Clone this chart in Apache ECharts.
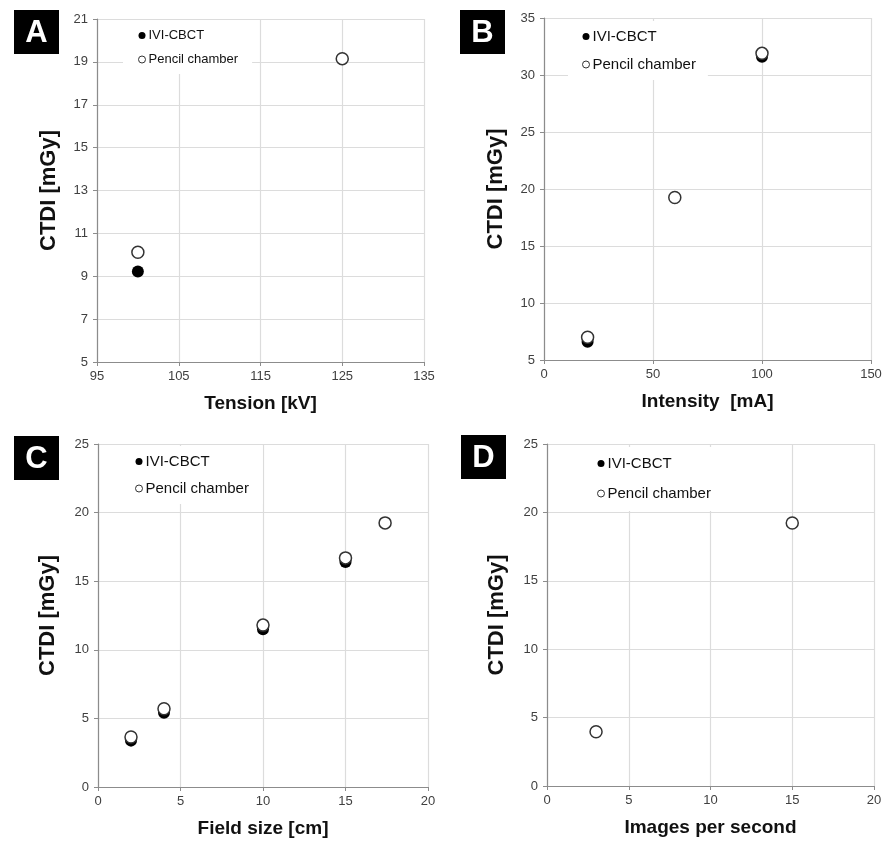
<!DOCTYPE html>
<html>
<head>
    <meta charset="utf-8">
    <title>CTDI</title>
    <script src="https://cdn.jsdelivr.net/npm/echarts@6/dist/echarts.min.js"></script>
</head>
<style>
    html, body { margin: 0; padding: 0; background: #fff; }
    #main { width: 886px; height: 842px; }
</style>
<body>
<div id="main"></div>
<script>
    // names
    var ivi = 'IVI-CBCT';
    var pen = 'Pencil chamber';

    // A - tension
    var aIviX = [100];
    var aIviY = [9.22];
    var aPenX = [100, 125];
    var aPenY = [10.12, 19.15];

    // B - intensity
    var bIviX = [20, 100];
    var bIviY = [6.6, 31.6];
    var bPenX = [20, 60, 100];
    var bPenY = [7.0, 19.25, 31.9];

    // C - field size
    var cIviX = [2, 4, 10, 15];
    var cIviY = [3.38, 5.42, 11.5, 16.4];
    var cPenX = [2, 4, 10, 15, 17.4];
    var cPenY = [3.65, 5.7, 11.8, 16.7, 19.25];

    // D - images per second (only pencil visible)
    var dPenX = [3, 15];
    var dPenY = [3.96, 19.23];

    var xNames = ['Tension [kV]', 'Intensity  [mA]', 'Field size [cm]', 'Images per second'];
    var yName = 'CTDI [mGy]';
    var letters = ['A', 'B', 'C', 'D'];

    function zip(xs, ys) {
        var out = [];
        for (var i = 0; i < xs.length; i++) out.push([xs[i], ys[i]]);
        return out;
    }

    var grids = [
        {left: 97, top: 19, width: 327, height: 343},
        {left: 544, top: 18, width: 327, height: 342},
        {left: 98, top: 444, width: 330, height: 343},
        {left: 547, top: 444, width: 327, height: 342}
    ];
    var xRanges = [[95, 135, 10], [0, 150, 50], [0, 20, 5], [0, 20, 5]];
    var yRanges = [[5, 21, 2], [5, 35, 5], [0, 25, 5], [0, 25, 5]];
    var yGaps = [37, 37, 39, 39];

    var axisGray = '#8c8c8c';
    var gridGray = '#dcdcdc';
    var labelCol = '#404040';

    var xAxes = [], yAxes = [];
    for (var i = 0; i < 4; i++) {
        xAxes.push({
            type: 'value', gridIndex: i,
            min: xRanges[i][0], max: xRanges[i][1], interval: xRanges[i][2],
            name: xNames[i], nameLocation: 'middle', nameGap: 32,
            nameTextStyle: {fontFamily: 'Liberation Sans', fontWeight: 'bold', fontSize: 19, color: '#111'},
            axisLine: {show: true, lineStyle: {color: axisGray, width: 1.2}},
            axisTick: {show: true, length: 4, lineStyle: {color: axisGray}},
            axisLabel: {fontFamily: 'Liberation Sans', fontSize: 13, color: labelCol, margin: 8},
            splitLine: {show: true, lineStyle: {color: gridGray, width: 1.2}}
        });
        yAxes.push({
            type: 'value', gridIndex: i,
            min: yRanges[i][0], max: yRanges[i][1], interval: yRanges[i][2],
            name: yName, nameLocation: 'middle', nameGap: yGaps[i],
            nameTextStyle: {fontFamily: 'Liberation Sans', fontWeight: 'bold', fontSize: 22, color: '#111'},
            axisLine: {show: true, lineStyle: {color: axisGray, width: 1.2}},
            axisTick: {show: true, length: 4, lineStyle: {color: axisGray}},
            axisLabel: {fontFamily: 'Liberation Sans', fontSize: 13, color: labelCol, margin: 9},
            splitLine: {show: true, lineStyle: {color: gridGray, width: 1.2}}
        });
    }

    var iviStyle = {color: '#000', opacity: 1};
    var penStyle = {color: '#fff', borderColor: '#333', borderWidth: 1.5, opacity: 1};

    function sc(name, idx, data, style) {
        return {
            name: name, type: 'scatter', xAxisIndex: idx, yAxisIndex: idx,
            symbol: 'circle', symbolSize: 12, data: data, itemStyle: style,
            emphasis: {disabled: true}
        };
    }

    var series = [
        sc(ivi, 0, zip(aIviX, aIviY), iviStyle),
        sc(pen, 0, zip(aPenX, aPenY), penStyle),
        sc(ivi, 1, zip(bIviX, bIviY), iviStyle),
        sc(pen, 1, zip(bPenX, bPenY), penStyle),
        sc(ivi, 2, zip(cIviX, cIviY), iviStyle),
        sc(pen, 2, zip(cPenX, cPenY), penStyle),
        sc(ivi, 3, [], iviStyle),
        sc(pen, 3, zip(dPenX, dPenY), penStyle)
    ];

    // legend boxes
    var legendPos = [
        {left: 123, top: 20, fs: 13, gap: 11, pad: [9, 14, 8, 15]},
        {left: 568, top: 21, fs: 15, gap: 13, pad: [8, 12, 8, 14]},
        {left: 121, top: 446, fs: 15, gap: 12, pad: [8, 14, 8, 14]},
        {left: 583, top: 447, fs: 15, gap: 15, pad: [9, 14, 10, 14]}
    ];
    var legends = legendPos.map(function (p) {
        return {
            orient: 'vertical', left: p.left, top: p.top,
            padding: p.pad, itemGap: p.gap, itemWidth: 7, itemHeight: 7,
            backgroundColor: '#fff', selectedMode: false,
            textStyle: {fontFamily: 'Liberation Sans', fontSize: p.fs, color: '#111', padding: [0, 0, 0, -2]},
            data: [
                {name: ivi, icon: 'circle', itemStyle: {color: '#000', borderWidth: 0, opacity: 1}},
                {name: pen, icon: 'circle', itemStyle: {color: '#fff', borderColor: '#333', borderWidth: 1, opacity: 1}}
            ]
        };
    });

    // panel letters
    var boxes = [[14, 10], [460, 10], [14, 436], [461, 435]];
    var graphic = [];
    for (var k = 0; k < 4; k++) {
        graphic.push({
            type: 'group', left: boxes[k][0], top: boxes[k][1],
            children: [
                {type: 'rect', shape: {x: 0, y: 0, width: 45, height: 44}, style: {fill: '#000'}},
                {type: 'text', x: 22.5, y: 23, style: {text: letters[k], fill: '#fff',
                    font: 'bold 31px "Liberation Sans"', align: 'center', verticalAlign: 'middle'}}
            ]
        });
    }

    var myChart = echarts.init(document.getElementById('main'));
    myChart.setOption({
        animation: false,
        grid: grids,
        xAxis: xAxes,
        yAxis: yAxes,
        legend: legends,
        graphic: graphic,
        series: series
    });
</script>
</body>
</html>
